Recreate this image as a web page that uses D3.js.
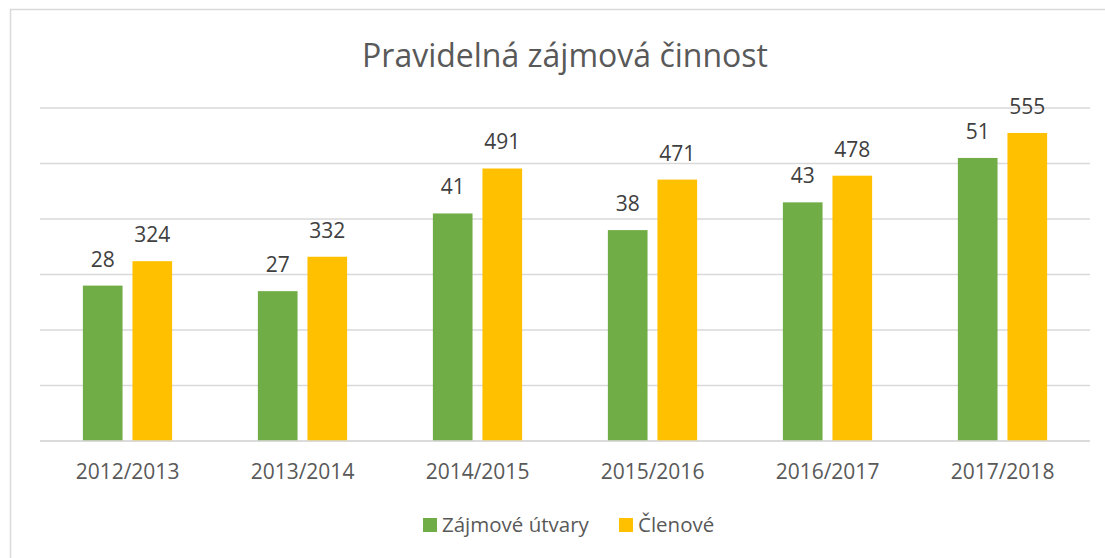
<!DOCTYPE html>
<html>
<head>
<meta charset="utf-8">
<script src="https://cdn.jsdelivr.net/npm/d3@7"></script>
<style>
  body { margin: 0; background: #fff; }
  text { font-family: "Open Sans", sans-serif; }
</style>
</head>
<body>
<div id="chart"></div>
<script>
// Data
const years = ["2012/2013", "2013/2014", "2014/2015", "2015/2016", "2016/2017", "2017/2018"];
const utvary = [28, 27, 41, 38, 43, 51];       // Zájmové útvary (primary axis)
const clenove = [324, 332, 491, 471, 478, 555]; // Členové (secondary axis)
const seriesNames = ["Zájmové útvary", "Členové"];
const seriesColors = ["#70AD47", "#FFC000"];
const leftTicks = [0, 10, 20, 30, 40, 50, 60];

const width = 1105, height = 558;
const plot = { left: 40, right: 1090, top: 108, bottom: 441 };

const svg = d3.select("#chart").append("svg")
    .attr("width", width)
    .attr("height", height);

// Chart area frame (runs off the right and bottom edge in the reference)
svg.append("rect")
   .attr("x", 10.5).attr("y", 9.5)
   .attr("width", 1200).attr("height", 700)
   .attr("fill", "#fff")
   .attr("stroke", "#d9d9d9")
   .attr("stroke-width", 1.5);

// Title
svg.append("text")
   .attr("x", 565).attr("y", 67)
   .attr("text-anchor", "middle")
   .attr("fill", "#595959")
   .style("font-size", "32px")
   .text("Pravidelná zájmová činnost");

// Scales: two value axes (hidden), both share the same gridlines
const xScale = d3.scaleBand()
    .domain(years)
    .range([plot.left, plot.right])
    .paddingInner(0.49)
    .paddingOuter(0.245);

const xSeries = d3.scaleBand()
    .domain(seriesNames)
    .range([0, xScale.bandwidth()])
    .paddingInner(0.2);

const yLeft = d3.scaleLinear().domain([0, 60]).range([plot.bottom, plot.top]);
const yRight = d3.scaleLinear().domain([0, 600]).range([plot.bottom, plot.top]);

// Gridlines
svg.append("g")
   .selectAll("line")
   .data(leftTicks)
   .enter()
   .append("line")
   .attr("x1", plot.left).attr("x2", plot.right)
   .attr("y1", d => yLeft(d)).attr("y2", d => yLeft(d))
   .attr("stroke", "#d9d9d9")
   .attr("stroke-width", 1.5);

// Bars + value labels
const series = [
    { name: seriesNames[0], values: utvary, scale: yLeft, color: seriesColors[0] },
    { name: seriesNames[1], values: clenove, scale: yRight, color: seriesColors[1] }
];

series.forEach(function (s) {
    const g = svg.append("g");
    g.selectAll("rect")
     .data(s.values)
     .enter()
     .append("rect")
     .attr("x", (d, i) => xScale(years[i]) + xSeries(s.name))
     .attr("y", d => s.scale(d))
     .attr("width", xSeries.bandwidth())
     .attr("height", d => s.scale(0) - s.scale(d))
     .attr("fill", s.color);

    g.selectAll("text")
     .data(s.values)
     .enter()
     .append("text")
     .attr("x", (d, i) => xScale(years[i]) + xSeries(s.name) + xSeries.bandwidth() / 2)
     .attr("y", d => s.scale(d) - 19)
     .attr("text-anchor", "middle")
     .attr("fill", "#404040")
     .style("font-size", "21px")
     .text(d => d);
});

// Baseline over the bars
svg.append("line")
   .attr("x1", plot.left).attr("x2", plot.right)
   .attr("y1", yLeft(0)).attr("y2", yLeft(0))
   .attr("stroke", "#d9d9d9")
   .attr("stroke-width", 1.5);

// X axis labels
const xAxis = svg.append("g")
    .attr("transform", "translate(0," + plot.bottom + ")")
    .call(d3.axisBottom(xScale).tickSize(0).tickPadding(0));
xAxis.select(".domain").remove();
xAxis.selectAll("text")
     .attr("y", 38)
     .attr("dy", null)
     .attr("fill", "#595959")
     .style("font-size", "21px")
     .style("font-family", "'Open Sans', sans-serif");

// Legend
const legend = svg.append("g").attr("transform", "translate(423,518)");
const legendX = [0, 196];
series.forEach(function (s, i) {
    const item = legend.append("g").attr("transform", "translate(" + legendX[i] + ",0)");
    item.append("rect")
        .attr("width", 14).attr("height", 14)
        .attr("fill", s.color);
    item.append("text")
        .attr("x", 19).attr("y", 14)
        .attr("fill", "#595959")
        .style("font-size", "20.5px")
        .text(s.name);
});
</script>
</body>
</html>
